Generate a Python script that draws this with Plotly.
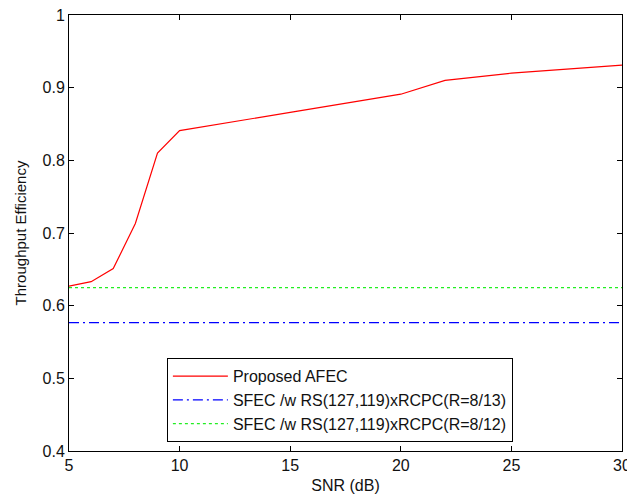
import plotly.graph_objects as go

snr = [5, 6, 7, 8, 9, 10, 15, 20, 22, 25, 30]
afec = [0.627, 0.633, 0.651, 0.713, 0.81, 0.841, 0.866, 0.891, 0.91, 0.92, 0.931]
line_x = [5, 30]
sfec_13 = [0.5766, 0.5766]
sfec_12 = [0.6247, 0.6247]

names = ["Proposed AFEC",
         "SFEC /w RS(127,119)xRCPC(R=8/13)",
         "SFEC /w RS(127,119)xRCPC(R=8/12)"]

fig = go.Figure()
fig.add_trace(go.Scatter(x=snr, y=afec, mode="lines", name=names[0],
                         line=dict(color="#ff0000", width=1.2)))
fig.add_trace(go.Scatter(x=line_x, y=sfec_13, mode="lines", name=names[1],
                         line=dict(color="#0000ff", width=1.2, dash="10px,4px,2px,4px")))
fig.add_trace(go.Scatter(x=line_x, y=sfec_12, mode="lines", name=names[2],
                         line=dict(color="#22ee22", width=1.2, dash="3px,3px")))

font = dict(family="Liberation Sans, Arial, sans-serif", size=16, color="#111111")
axis_common = dict(showline=True, linecolor="black", linewidth=1, mirror="ticks",
                   ticks="inside", ticklen=5, tickcolor="black", showgrid=False,
                   zeroline=False, tickfont=font, ticklabeloverflow="allow",
                   automargin=False)

fig.update_layout(
    width=627, height=495,
    margin=dict(l=69, r=5, t=15, b=44),
    paper_bgcolor="white", plot_bgcolor="white",
    font=font,
    showlegend=True,
    legend=dict(x=0.177, y=0.213, xanchor="left", yanchor="top",
                bordercolor="black", borderwidth=1, bgcolor="white",
                font=font, tracegroupgap=0, itemwidth=55),
    xaxis=dict(range=[5, 30], tickvals=[5, 10, 15, 20, 25, 30],
               title=dict(text="SNR (dB)", font=font, standoff=6), **axis_common),
    yaxis=dict(range=[0.4, 1.0], tickvals=[0.4, 0.5, 0.6, 0.7, 0.8, 0.9, 1.0],
               ticktext=["0.4", "0.5", "0.6", "0.7", "0.8", "0.9", "1"],
               title=dict(text="Throughput Efficiency", font=dict(font, size=15), standoff=12),
               **axis_common),
)

fig.write_html("out.html")
